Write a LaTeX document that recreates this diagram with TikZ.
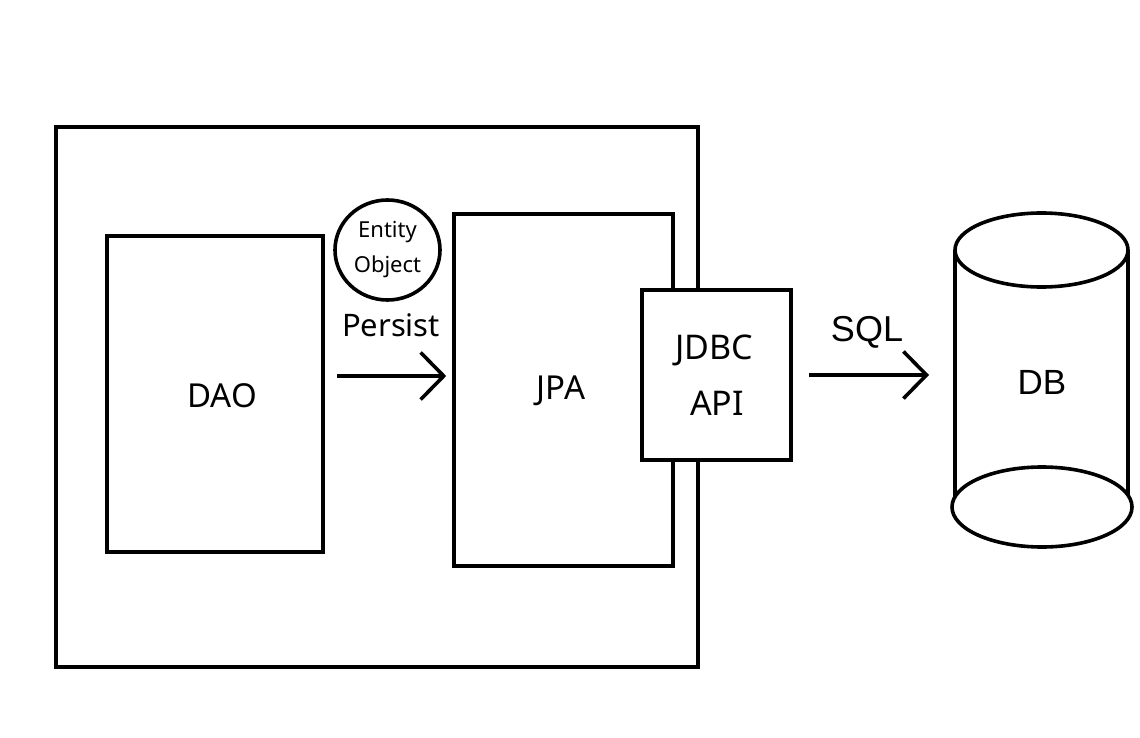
\documentclass[tikz,border=0pt]{standalone}
\usepackage{fontspec}
\setmainfont{Noto Sans}
\newfontfamily\arialfont{Liberation Sans}
\usetikzlibrary{arrows.meta,shapes.geometric}
\begin{document}
\begin{tikzpicture}[x=1pt,y=-1pt,
  ln/.style={line width=3.6pt},
  box/.style={ln,draw,fill=white,inner sep=0pt},
  arr/.style={ln,-{Straight Barb[length=23pt,width=47pt]}},
  lbl/.style={inner sep=0pt,font=\fontsize{33}{40}\selectfont}]
\useasboundingbox (0,0) rectangle (1140,738);
% outer frame
\node[box,minimum width=642pt,minimum height=540pt] (outer) at (377,397) {};
% DAO
\node[box,minimum width=216pt,minimum height=316pt] (dao) at (215,394) {};
\node[lbl] (daotext) at (222,396) {DAO};
% JPA
\node[box,minimum width=219pt,minimum height=352pt] (jpa) at (563.5,390) {};
\node[lbl] (jpatext) at (561,391) {JPA};
% JDBC API
\node[box,minimum width=149pt,minimum height=170pt] (jdbc) at (716.5,375) {};
\node[lbl,font=\fontsize{34}{40}\selectfont] (jdbctext) at (714,350) {JDBC};
\node[lbl,font=\fontsize{34}{40}\selectfont] (apitext) at (717,403) {API};
% Entity object
\node[ln,draw,ellipse,minimum width=105pt,minimum height=100pt,inner sep=0pt,align=center,
  font=\fontsize{22}{35}\selectfont] (entity) at (387.5,250) {Entity\\Object};
\node[lbl,font=\fontsize{31}{36}\selectfont] (persist) at (391,325) {Persist};
% DB cylinder
\draw[ln] (955,250) -- (955,507);
\draw[ln] (1128,250) -- (1128,507);
\draw[ln,fill=white] (1041.5,250) ellipse[x radius=86.5pt,y radius=37pt];
\draw[ln,fill=white] (1042,507) ellipse[x radius=90pt,y radius=40pt];
\node[lbl,font=\arialfont\fontsize{35}{40}\selectfont] (db) at (1042,382) {DB};
\coordinate (dbleft) at (955,375);
\node[lbl,font=\arialfont\fontsize{36}{40}\selectfont] (sql) at (867,332) {SQL};
% arrows
\draw[arr,shorten <=12pt,shorten >=6pt] (dao.east |- 0,376) -- (jpa.west |- 0,376);
\draw[arr,shorten <=16pt,shorten >=26pt] (jdbc.east) -- (dbleft);
\end{tikzpicture}
\end{document}
